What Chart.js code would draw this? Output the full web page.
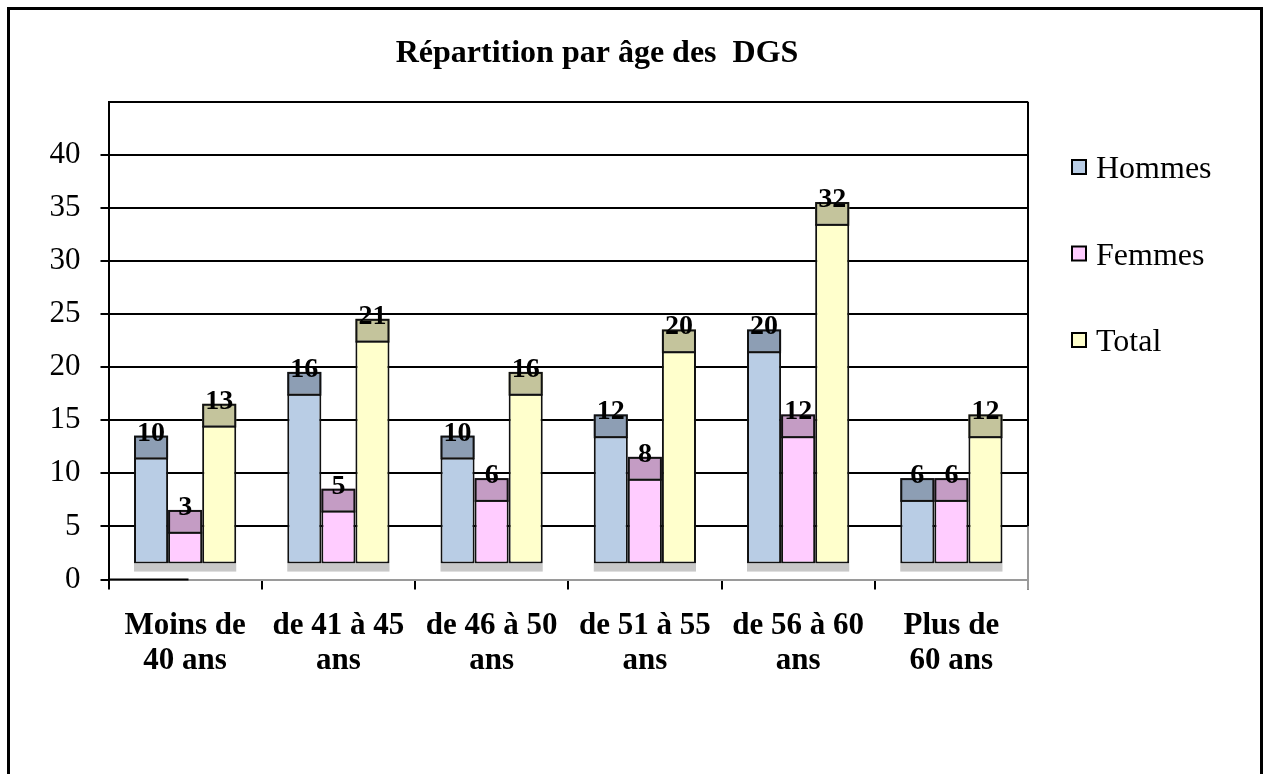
<!DOCTYPE html>
<html lang="fr">
<head>
<meta charset="utf-8">
<title>Répartition par âge des DGS</title>
<script src="https://cdn.jsdelivr.net/npm/chart.js@4.4.0/dist/chart.umd.min.js"></script>
<style>
  html, body { margin: 0; padding: 0; background: #fff; overflow: hidden; }
  #wrap { position: relative; width: 1263px; height: 774px; }
  #cadre { position: absolute; left: 7px; top: 7px; width: 1250px; height: 820px; border: 3px solid #000; pointer-events: none; }
</style>
</head>
<body>
<div id="wrap">
  <canvas id="graphAge"></canvas>
  <div id="cadre"></div>
</div>
<script>
// tranches d'âge (libellés sur deux lignes)
const categories = [
  ['Moins de', '40 ans'],
  ['de 41 à 45', 'ans'],
  ['de 46 à 50', 'ans'],
  ['de 51 à 55', 'ans'],
  ['de 56 à 60', 'ans'],
  ['Plus de', '60 ans']
];
const hommes = [10, 16, 10, 12, 20, 6];
const femmes = [3, 5, 6, 8, 12, 6];
const total = [13, 21, 16, 20, 32, 12];
const seriesNames = ['Hommes', 'Femmes', 'Total'];
const seriesValues = [hommes, femmes, total];

const frontColors = ['#b9cde5', '#ffccff', '#ffffcc'];
const capColors = ['#8d9eb4', '#c49cc4', '#c4c49c'];
const serif = "'Liberation Serif', 'Times New Roman', serif";

const FLOOR = 1.5;   // hauteur du plancher en perspective
const DEPTH = 2.05;  // épaisseur du dessus des barres

// plancher, mur de droite, dessus des barres et étiquettes
const effet3d = {
  id: 'effet3d',
  beforeDatasetsDraw(chart) {
    const { ctx, chartArea, scales: { y } } = chart;
    const m0 = chart.getDatasetMeta(0);
    const m2 = chart.getDatasetMeta(2);
    const yFloor = y.getPixelForValue(FLOOR);
    ctx.save();
    ctx.fillStyle = '#c8c8c8';
    m0.data.forEach((bar, i) => {
      const left = bar.x - bar.width / 2;
      const last = m2.data[i];
      const right = last.x + last.width / 2;
      ctx.fillRect(left, yFloor, right - left, 8);
    });
    const y5 = y.getPixelForValue(5);
    ctx.lineWidth = 2;
    ctx.strokeStyle = '#000';
    ctx.beginPath();
    ctx.moveTo(chartArea.right, chartArea.top);
    ctx.lineTo(chartArea.right, y5);
    ctx.stroke();
    ctx.strokeStyle = '#9a9a9a';
    ctx.beginPath();
    ctx.moveTo(chartArea.right, y5);
    ctx.lineTo(chartArea.right, chartArea.bottom + 10);
    ctx.stroke();
    ctx.restore();
  },
  afterDatasetsDraw(chart) {
    const { ctx, chartArea, scales: { y } } = chart;
    ctx.save();
    // bord avant du plancher, noir sur sa partie gauche
    ctx.lineWidth = 2;
    ctx.strokeStyle = '#000';
    ctx.beginPath();
    ctx.moveTo(chartArea.left, chartArea.bottom);
    ctx.lineTo(chartArea.left + 80, chartArea.bottom);
    ctx.stroke();
    seriesValues.forEach((values, d) => {
      const meta = chart.getDatasetMeta(d);
      meta.data.forEach((bar, i) => {
        const left = bar.x - bar.width / 2;
        const bottom = bar.y;
        const top = y.getPixelForValue(FLOOR + values[i] + DEPTH);
        ctx.fillStyle = capColors[d];
        ctx.fillRect(left, top, bar.width, bottom - top);
        ctx.lineWidth = 2;
        ctx.strokeStyle = '#111';
        ctx.strokeRect(left + 1, top + 1, bar.width - 2, bottom - top);
        ctx.fillStyle = '#000';
        ctx.font = 'bold 28px ' + serif;
        ctx.textAlign = 'center';
        ctx.textBaseline = 'alphabetic';
        ctx.fillText(String(values[i]), bar.x, top + 5);
      });
    });
    ctx.restore();
  },
  afterDraw(chart) {
    const { ctx } = chart;
    ctx.save();
    ctx.fillStyle = '#000';
    ctx.font = 'bold 32px ' + serif;
    ctx.textAlign = 'center';
    ctx.textBaseline = 'alphabetic';
    ctx.fillText('Répartition par âge des  DGS', 597, 62);

    ctx.font = '32px ' + serif;
    ctx.textAlign = 'left';
    seriesNames.forEach((name, d) => {
      const cy = 167 + d * 86.5;
      ctx.fillStyle = frontColors[d];
      ctx.fillRect(1072, cy - 7, 14, 14);
      ctx.lineWidth = 2;
      ctx.strokeStyle = '#000';
      ctx.strokeRect(1072, cy - 7, 14, 14);
      ctx.fillStyle = '#000';
      ctx.fillText(name, 1096, cy + 11);
    });
    ctx.restore();
  }
};

const datasets = seriesNames.map((name, d) => ({
  label: name,
  data: seriesValues[d].map(v => [FLOOR, FLOOR + v]),
  backgroundColor: frontColors[d],
  borderColor: '#111',
  borderWidth: 2,
  borderSkipped: false,
  barPercentage: 1,
  categoryPercentage: 0.667
}));

new Chart(document.getElementById('graphAge'), {
  type: 'bar',
  data: { labels: categories, datasets: datasets },
  plugins: [effet3d],
  options: {
    responsive: true,
    maintainAspectRatio: false,
    animation: false,
    layout: { padding: { left: 0, top: 101.7, right: 235, bottom: 0 } },
    plugins: {
      legend: { display: false },
      title: { display: false },
      tooltip: { enabled: false }
    },
    scales: {
      x: {
        grid: { display: true, drawOnChartArea: false, offset: true, color: '#000', lineWidth: 2, tickLength: 10 },
        border: { color: '#9a9a9a', width: 2 },
        ticks: {
          color: '#000',
          font: { family: serif, size: 31, weight: 'bold', lineHeight: 1.13 },
          padding: 19,
          maxRotation: 0,
          autoSkip: false
        },
        afterFit(scale) { scale.height = 194.5; }
      },
      y: {
        min: 0,
        max: 45,
        ticks: {
          stepSize: 5,
          color: '#000',
          font: { family: serif, size: 31 },
          padding: 20,
          callback: v => (v === 45 ? '' : v)
        },
        grid: {
          color: c => (c.tick && c.tick.value === 0 ? '#9a9a9a' : '#000'),
          tickColor: c => (c.tick && c.tick.value === 45 ? 'rgba(0,0,0,0)' : '#000'),
          lineWidth: 2,
          tickLength: 8
        },
        border: { color: '#000', width: 2 },
        afterFit(scale) { scale.width = 108.5; }
      }
    }
  }
});
</script>
</body>
</html>
